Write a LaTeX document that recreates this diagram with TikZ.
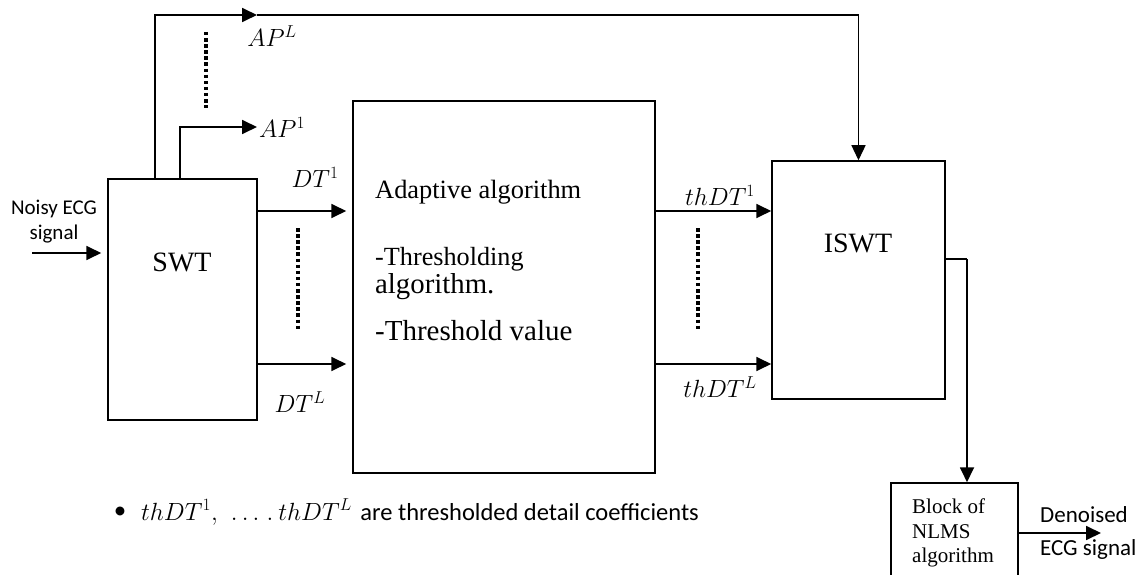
\documentclass[tikz,border=0pt]{standalone}
\usepackage{fontspec}
\newfontfamily\tnr{Liberation Serif}
\newfontfamily\calib{Carlito}
\usetikzlibrary{arrows.meta}
\begin{document}
\begin{tikzpicture}[x=1pt,y=-1pt,
  blockbox/.style={draw,line width=1.5pt,minimum width=#1,inner sep=0pt},
  arr/.style={line width=1.8pt,-{Triangle[length=15pt,width=14pt]}},
  thinarr/.style={line width=1.3pt,-{Triangle[length=15pt,width=14pt]}},
  dots/.style={line width=3.5pt,dash pattern=on 3.5pt off 2.6pt},
  mlabel/.style={inner sep=0pt,font=\fontsize{25}{30}\selectfont},
  serifbig/.style={inner sep=0pt,font=\tnr\fontsize{28}{34}\selectfont},
  adtext/.style={inner sep=0pt,anchor=base west,font=\tnr\fontsize{#1}{#1}\selectfont},
  serifsmall/.style={inner sep=0pt,anchor=base west,font=\tnr\fontsize{21}{25}\selectfont},
  sanslabel/.style={inner sep=0pt,font=\calib\fontsize{#1}{#1}\selectfont}
]
\useasboundingbox (0,0) rectangle (1144,575);

% processing blocks
\node[blockbox=149pt,minimum height=241pt] (swt) at (182.5,299.5) {};
\node[blockbox=302pt,minimum height=372pt] (adapt) at (504,287) {};
\node[blockbox=173pt,minimum height=238pt] (iswt) at (858.5,280) {};
\node[blockbox=127pt,minimum height=117pt] (nlms) at (954.5,541.5) {};

% block texts
\node[serifbig] (swttext) at (182,262) {SWT};
\node[serifbig] (iswttext) at (858,243) {ISWT};
\node[adtext=26.4pt] (ad1) at (375,198) {Adaptive algorithm};
\node[adtext=26.2pt] (ad2) at (375,265) {-Thresholding};
\node[adtext=28.8pt] (ad3) at (375,293) {algorithm.};
\node[adtext=29pt] (ad4) at (375,340) {-Threshold value};
\node[serifsmall] (nl1) at (912,513) {Block of};
\node[serifsmall] (nl2) at (912,538) {NLMS};
\node[serifsmall] (nl3) at (912,562) {algorithm};

% input
\coordinate (in) at (32,253);
\node[sanslabel=21pt,align=center] (intext) at (54,221.5) {Noisy ECG\\[4pt]signal};
\draw[arr,shorten >=6pt] (in) -- (swt.west |- in);

% approximation outputs
\coordinate (apLfoot) at (155,179);
\coordinate (apLtip) at (257,15);
\coordinate (ap1foot) at (180,179);
\coordinate (ap1tip) at (257,127);
\draw[arr] (apLfoot) |- (apLtip);
\draw[arr] (ap1foot) |- (ap1tip);
\draw[thinarr] (apLtip) -| (iswt.north);
\draw[dots] (206,32) -- (206,108);
\node[mlabel] (apL) at (272,36) {$AP^L$};
\node[mlabel,anchor=west] (ap1) at (259,127) {$AP^1$};

% detail coefficients
\coordinate (dt1) at (0,211);
\coordinate (dtL) at (0,364);
\draw[arr,shorten >=6pt] (swt.east |- dt1) -- (adapt.west |- dt1);
\draw[arr,shorten >=6pt] (swt.east |- dtL) -- (adapt.west |- dtL);
\draw[dots] (298,228) -- (298,330);
\node[mlabel] (dt1text) at (315,177) {$DT^1$};
\node[mlabel] (dtLtext) at (300,402) {$DT^L$};

% thresholded detail coefficients
\draw[arr] (adapt.east |- dt1) -- (iswt.west |- dt1);
\draw[arr] (adapt.east |- dtL) -- (iswt.west |- dtL);
\draw[dots] (698,228) -- (698,330);
\node[mlabel] (th1text) at (720,195) {$thDT^1$};
\node[mlabel] (thLtext) at (720,387) {$thDT^L$};

% reconstruction to NLMS
\coordinate (bend) at (967,259);
\draw[line width=1.5pt] (iswt.east |- bend) -- (bend);
\draw[arr] (bend) -- (bend |- nlms.north);
\coordinate (outtip) at (1101,533);
\draw[arr] (nlms.east |- outtip) -- (outtip);
\node[sanslabel=23pt,anchor=base west] (den1) at (1040,522) {Denoised};
\node[sanslabel=23pt,anchor=base west] (den2) at (1040,555) {ECG signal};

% note
\node[sanslabel=25pt] (bullet) at (120,513) {•};
\node[sanslabel=24.5pt,anchor=base west] (note) at (141,520) {$thDT^1,\hspace{9pt}\ldots\hspace{3pt}.\hspace{5pt}thDT^L$\hspace{3pt} are thresholded detail coefficients};
\end{tikzpicture}
\end{document}
